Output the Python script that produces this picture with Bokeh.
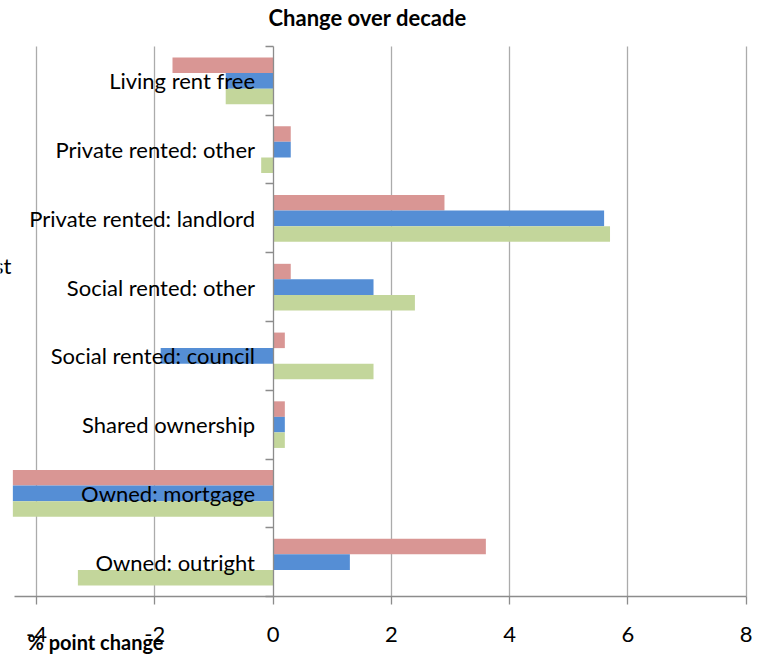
from bokeh.plotting import figure
from bokeh.models import (ColumnDataSource, Range1d, FixedTicker, LinearAxis, Grid, Label)
from bokeh.transform import dodge
from bokeh.core.properties import value
from bokeh.embed import file_html
from bokeh.resources import INLINE

categories = ["Living rent free", "Private rented: other", "Private rented: landlord",
              "Social rented: other", "Social rented: council", "Shared ownership",
              "Owned: mortgage", "Owned: outright"]
series_a = [-1.7, 0.3, 2.9, 0.3, 0.2, 0.2, -4.4, 3.6]    # red
series_b = [-0.8, 0.3, 5.6, 1.7, -1.9, 0.2, -4.4, 1.3]   # blue
series_c = [-0.8, -0.2, 5.7, 2.4, 1.7, 0.2, -4.4, -3.3]  # green
x_ticks = [-4, -2, 0, 2, 4, 6, 8]
x_axis_bounds = (-4.38, 8)
title_text = "Change over decade"
x_title = "% point change"
cut_text = "st"

FONT = "Lato"
AXIS_GREY = "#8C8C8C"
n = len(categories)
ypos = [n - i - 0.5 for i in range(n)]          # category slots, top to bottom
src = ColumnDataSource(dict(cat=categories, y=ypos, a=series_a, b=series_b, c=series_c))

W, H = 760, 655
p = figure(width=W, height=H, output_backend="svg", toolbar_location=None,
           x_axis_location=None, y_axis_location=None,
           x_range=Range1d(-4.609, 8.245), y_range=Range1d(-0.858, n + 0.669),
           min_border_left=0, min_border_right=0, min_border_top=0, min_border_bottom=0)
p.outline_line_color = None
p.background_fill_color = "white"
p.border_fill_color = "white"
for g0 in p.grid:
    g0.visible = False

# vertical gridlines, limited to the category area
grid_ticks = [t for t in x_ticks if t != 0]
p.add_layout(Grid(dimension=0, ticker=FixedTicker(ticks=grid_ticks), cross_bounds=(0, n),
                  grid_line_color="#ABABAB", grid_line_width=1.3))

bh = 0.226
p.hbar(y=dodge("y", bh), left=0, right="a", height=bh, source=src,
       fill_color="#D99694", line_color=None)
p.hbar(y=dodge("y", 0), left=0, right="b", height=bh, source=src,
       fill_color="#558ED5", line_color=None)
p.hbar(y=dodge("y", -bh), left=0, right="c", height=bh, source=src,
       fill_color="#C3D69B", line_color=None)

p.text(x=0, y="y", text="cat", source=src, x_offset=-18, text_align="right",
       text_baseline="middle", text_font=value(FONT), text_font_size="22px",
       text_color="black")

# horizontal value axis, crossing at the bottom of the category area
xa = LinearAxis(fixed_location=0, bounds=x_axis_bounds, ticker=FixedTicker(ticks=x_ticks))
xa.major_label_overrides = {t: str(t).replace("\u2212", "-") for t in x_ticks}
xa.axis_line_color = AXIS_GREY
xa.axis_line_width = 1.3
xa.major_tick_line_color = AXIS_GREY
xa.major_tick_line_width = 1.3
xa.major_tick_out = 8
xa.major_tick_in = 0
xa.minor_tick_line_color = None
xa.major_label_text_font = FONT
xa.major_label_text_font_size = "22px"
xa.major_label_text_color = "black"
xa.major_label_standoff = 22
p.add_layout(xa, "below")

# vertical category axis at x = 0, ticks at category boundaries
ya = LinearAxis(fixed_location=0, bounds=(0, n), ticker=FixedTicker(ticks=list(range(n + 1))))
ya.major_label_overrides = {i: "" for i in range(n + 1)}
ya.axis_line_color = AXIS_GREY
ya.axis_line_width = 1.3
ya.major_tick_line_color = AXIS_GREY
ya.major_tick_line_width = 1.3
ya.major_tick_out = 8
ya.major_tick_in = 0
ya.minor_tick_line_color = None
p.add_layout(ya, "left")

# texts positioned in screen units (x from left, y up from bottom)
p.add_layout(Label(x=268, y=H - 17, x_units="screen", y_units="screen", text=title_text,
                   text_font=FONT, text_font_style="bold", text_font_size="22px",
                   text_baseline="middle", text_color="black"))
p.add_layout(Label(x=27, y=H - 641, x_units="screen", y_units="screen", text=x_title,
                   text_font=FONT, text_font_style="bold", text_font_size="20px",
                   text_baseline="middle", text_color="black"))
p.add_layout(Label(x=11, y=H - 265, x_units="screen", y_units="screen", text=cut_text,
                   text_font=FONT, text_font_size="22px", text_align="right",
                   text_baseline="middle", text_color="black"))

open("out.html", "w").write(file_html(p, INLINE))
